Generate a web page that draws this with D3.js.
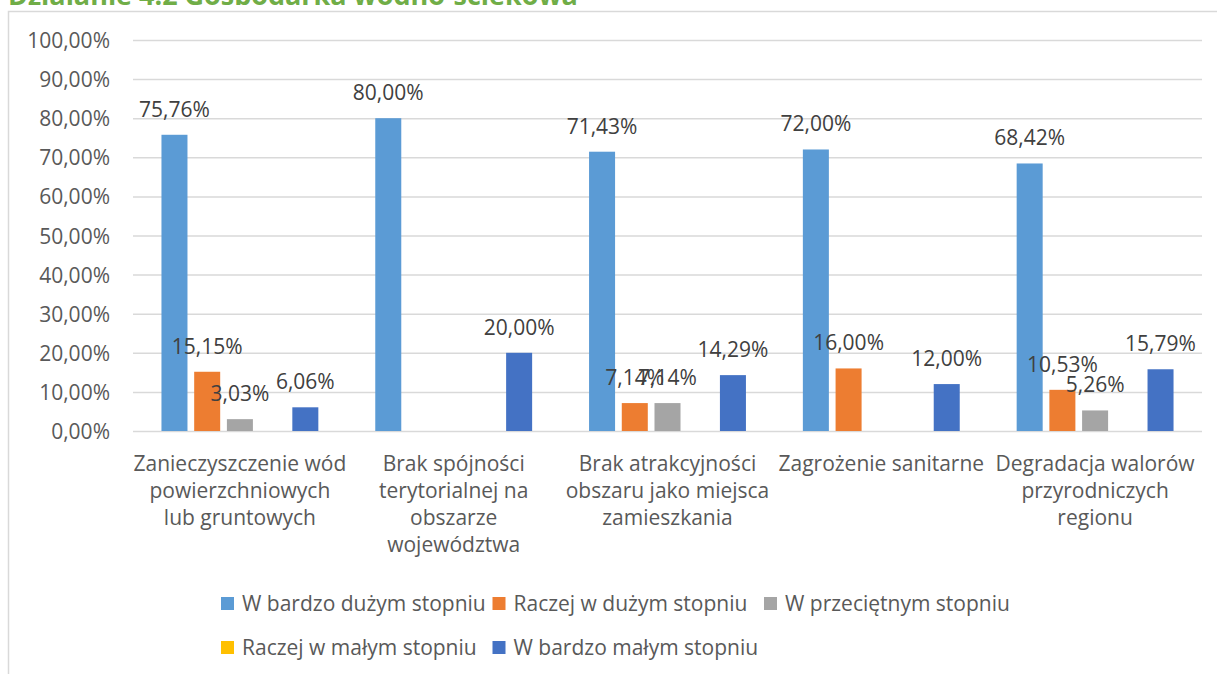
<!DOCTYPE html>
<html lang="pl">
<head>
<meta charset="utf-8">
<title>Działanie 4.2 Gospodarka wodno-ściekowa</title>
<script src="https://d3js.org/d3.v7.min.js"></script>
<style>
  body { margin: 0; background: #fff; }
  text { font-family: "Open Sans", sans-serif; }
</style>
</head>
<body>
<script>
// dane
var categories = [
  "Zanieczyszczenie wód powierzchniowych lub gruntowych",
  "Brak spójności terytorialnej na obszarze województwa",
  "Brak atrakcyjności obszaru jako miejsca zamieszkania",
  "Zagrożenie sanitarne",
  "Degradacja walorów przyrodniczych regionu"
];
var categoryLines = [
  ["Zanieczyszczenie wód", "powierzchniowych", "lub gruntowych"],
  ["Brak spójności", "terytorialnej na", "obszarze", "województwa"],
  ["Brak atrakcyjności", "obszaru jako miejsca", "zamieszkania"],
  ["Zagrożenie sanitarne"],
  ["Degradacja walorów", "przyrodniczych", "regionu"]
];
var seriesNames = [
  "W bardzo dużym stopniu",
  "Raczej w dużym stopniu",
  "W przeciętnym stopniu",
  "Raczej w małym stopniu",
  "W bardzo małym stopniu"
];
var seriesColors = ["#5B9BD5", "#ED7D31", "#A5A5A5", "#FFC000", "#4472C4"];
var bardzoDuzym  = [0.7576, 0.80, 0.7143, 0.72, 0.6842];
var raczejDuzym  = [0.1515, 0, 0.0714, 0.16, 0.1053];
var przecietnym  = [0.0303, 0, 0.0714, 0, 0.0526];
var raczejMalym  = [0, 0, 0, 0, 0];
var bardzoMalym  = [0.0606, 0.20, 0.1429, 0.12, 0.1579];
var yTicks = [0, 0.1, 0.2, 0.3, 0.4, 0.5, 0.6, 0.7, 0.8, 0.9, 1.0];
var title = "Działanie 4.2 Gospodarka wodno-ściekowa";

var seriesValues = [bardzoDuzym, raczejDuzym, przecietnym, raczejMalym, bardzoMalym];

var width = 1217, height = 674;
var svg = d3.select("body").append("svg")
    .attr("width", width)
    .attr("height", height);

var pl = d3.formatLocale({decimal: ",", thousands: " ", grouping: [3], currency: ["", " zł"]});
var fmt = pl.format(".2%");

// tytul (uciety u gory)
svg.append("clipPath").attr("id", "tclip")
  .append("rect").attr("x", 0).attr("y", 0).attr("width", width).attr("height", 5);
var t = svg.append("text")
    .attr("clip-path", "url(#tclip)")
    .attr("x", 8)
    .attr("y", 5)
    .attr("fill", "#70AD47")
    .attr("font-weight", "bold")
    .attr("font-size", 24)
    .text(title);
var tw = t.node().getComputedTextLength();
t.attr("font-size", 24 * 570 / tw);

// ramka wykresu
svg.append("path")
    .attr("d", "M8.5,674 L8.5,11.5 L1217,11.5")
    .attr("fill", "none")
    .attr("stroke", "#D9D9D9")
    .attr("stroke-width", 1.5);

var plotLeft = 133, plotRight = 1202, plotTop = 40, plotBottom = 431;

var x0 = d3.scaleBand().domain(categories).range([plotLeft, plotRight]);
var x1 = d3.scaleBand().domain(seriesNames).range([0, x0.bandwidth()])
    .paddingInner(0.205).paddingOuter(0.87);
var y = d3.scaleLinear().domain([0, 1]).range([plotBottom, plotTop]);

// os Y + linie siatki
var yAxis = svg.append("g")
    .attr("transform", "translate(" + plotLeft + ",0)")
    .call(d3.axisLeft(y).tickValues(yTicks).tickSize(-(plotRight - plotLeft)).tickPadding(23).tickFormat(fmt));
yAxis.select(".domain").remove();
yAxis.selectAll(".tick line").attr("stroke", "#D9D9D9").attr("stroke-width", 1.5);
yAxis.selectAll(".tick text")
    .attr("font-family", "Open Sans")
    .attr("font-size", 21)
    .attr("fill", "#595959")
    .attr("dy", "0.36em");

// slupki
var rows = categories.map(function(c, i) {
  return seriesNames.map(function(s, j) { return {cat: c, name: s, value: seriesValues[j][i], color: seriesColors[j]}; });
});

var groups = svg.selectAll("g.cat").data(rows).enter().append("g")
    .attr("class", "cat")
    .attr("transform", function(d, i) { return "translate(" + x0(categories[i]) + ",0)"; });

groups.selectAll("rect").data(function(d) { return d; }).enter().append("rect")
    .attr("x", function(d) { return x1(d.name); })
    .attr("y", function(d) { return y(d.value); })
    .attr("width", x1.bandwidth())
    .attr("height", function(d) { return plotBottom - y(d.value); })
    .attr("fill", function(d) { return d.color; });

groups.selectAll("text.lbl").data(function(d) { return d.filter(function(v) { return v.value > 0; }); })
  .enter().append("text")
    .attr("class", "lbl")
    .attr("x", function(d) { return x1(d.name) + x1.bandwidth() / 2; })
    .attr("y", function(d) { return y(d.value) - 18; })
    .attr("text-anchor", "middle")
    .attr("font-size", 21)
    .attr("fill", "#404040")
    .text(function(d) { return fmt(d.value); });

// etykiety kategorii
svg.selectAll("text.catlbl").data(categories).enter().append("text")
    .attr("class", "catlbl")
    .attr("x", function(d) { return x0(d) + x0.bandwidth() / 2; })
    .attr("y", plotBottom + 40)
    .attr("text-anchor", "middle")
    .attr("font-size", 21)
    .attr("fill", "#595959")
    .each(function(d, i) {
      var el = d3.select(this);
      categoryLines[i].forEach(function(line, k) {
        el.append("tspan")
          .attr("x", x0(d) + x0.bandwidth() / 2)
          .attr("dy", k === 0 ? 0 : 27)
          .text(line);
      });
    });

// legenda
var legend = svg.selectAll("g.leg").data(seriesNames).enter().append("g")
    .attr("class", "leg")
    .attr("transform", function(d, i) {
      return "translate(" + (221 + (i % 3) * 271.5) + "," + (611 + Math.floor(i / 3) * 44) + ")";
    });
legend.append("rect")
    .attr("x", 0).attr("y", -14)
    .attr("width", 13).attr("height", 13)
    .attr("fill", function(d, i) { return seriesColors[i]; });
legend.append("text")
    .attr("x", 21)
    .attr("y", 0)
    .attr("font-size", 21)
    .attr("fill", "#595959")
    .text(function(d) { return d; });
</script>
</body>
</html>
